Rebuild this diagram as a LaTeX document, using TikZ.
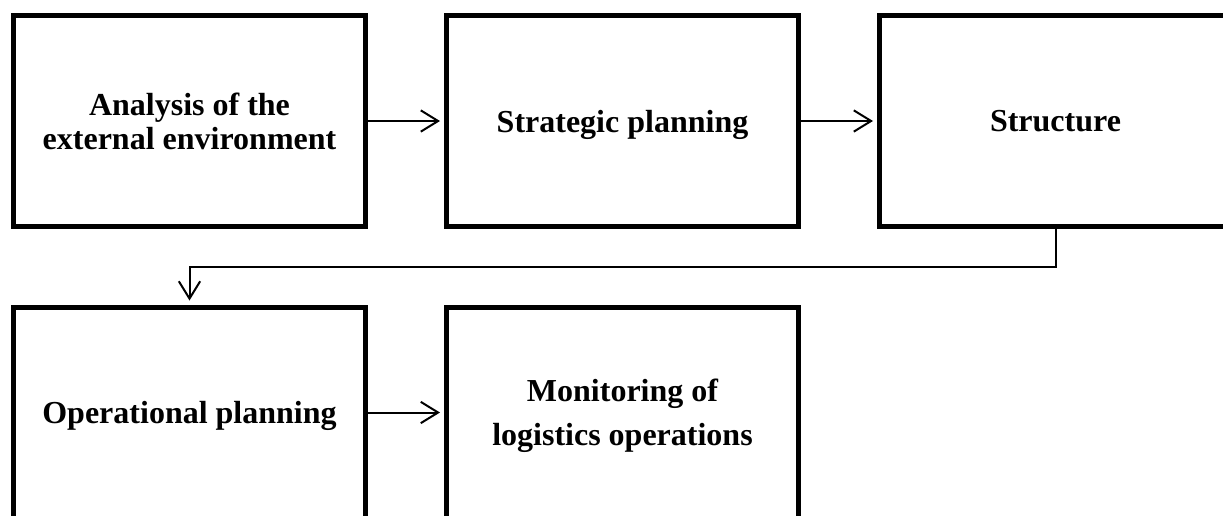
\documentclass[tikz,border=0pt]{standalone}
\usepackage{fontspec}
\setmainfont{Liberation Serif}
\usetikzlibrary{arrows.meta}

\tikzset{
  stage/.style={draw,line width=3.75pt,minimum width=264pt,minimum height=158.25pt,
    align=center,text depth=0pt,font=\bfseries\fontsize{24}{25.5}\selectfont},
  conn/.style={line width=1.5pt,-{Straight Barb[length=13pt,width=16pt,line width=1.5pt]},shorten >=3pt},
}

\begin{document}
\begin{tikzpicture}[x=0.75pt,y=-0.75pt]
      \pgfmathsetmacro{\h}{291.5}
      \pgfmathsetmacro{\w}{433}

      \useasboundingbox (0,0) rectangle (1223,515);

      \node[stage] (A) at (189.5,121) {Analysis of the\\external environment};
      \node[stage] (B) at (189.5 + \w,121) {Strategic planning};
      \node[stage] (C) at (189.5 + \w * 2,121) {Structure};

      \node[stage] (D) at (189.5,121 + \h) {Operational planning};
      \node[stage,font=\bfseries\fontsize{24}{33}\selectfont] (E) at (189.5 + \w,121 + \h) {Monitoring of\\logistics operations};

      \draw[conn] (A) -- (B);
      \draw[conn] (B) -- (C);
      \draw[conn] (C.south) -- ++(0,38) -| (D.north);
      \draw[conn] (D) -- (E);
    \end{tikzpicture}
\end{document}
